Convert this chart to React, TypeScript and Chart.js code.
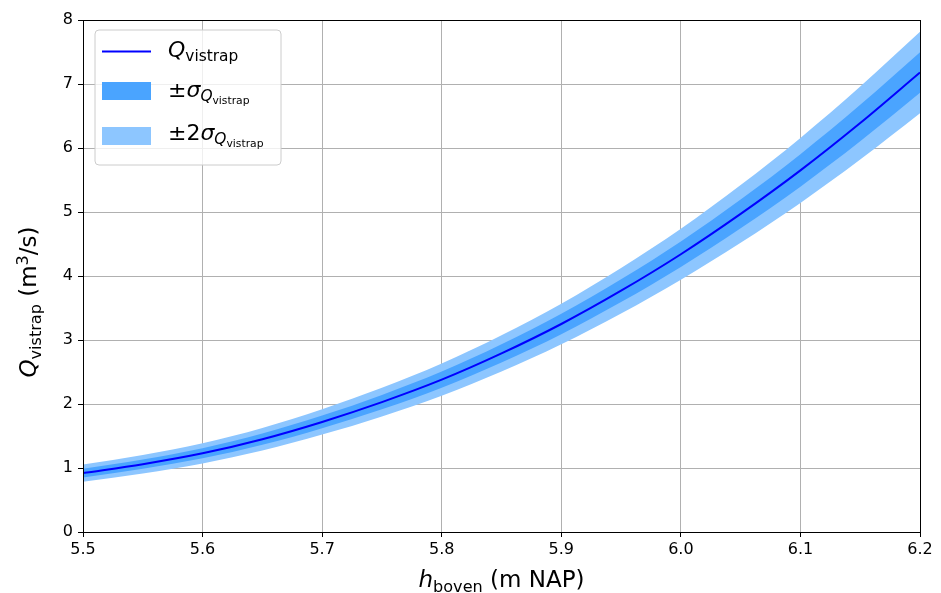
import React, { useEffect, useRef } from "react";
import { Chart, registerables } from "chart.js";

Chart.register(...registerables);

const hBoven = [5.5, 5.55, 5.6, 5.65, 5.7, 5.75, 5.8, 5.85, 5.9, 5.95, 6.0, 6.05, 6.1, 6.15, 6.2];
const qVistrap = [0.92, 1.06, 1.23, 1.45, 1.72, 2.03, 2.38, 2.79, 3.25, 3.77, 4.34, 4.97, 5.65, 6.39, 7.18];
const sigmaQ = [0.067, 0.072, 0.079, 0.088, 0.099, 0.112, 0.126, 0.142, 0.159, 0.178, 0.199, 0.225, 0.254, 0.285, 0.318];
const xTicks = [5.5, 5.6, 5.7, 5.8, 5.9, 6.0, 6.1, 6.2];
const yTicks = [0, 1, 2, 3, 4, 5, 6, 7, 8];

const FONT = "DejaVu Sans";
const LINE_COLOR = "#0000ff";
const BAND1 = "#4aa4ff";
const BAND2 = "#8dc6ff";

type Seg = { t: string; it?: boolean; lvl?: number };

function segFont(s: Seg, f: number) {
  const lvl = s.lvl || 0;
  const size = lvl === 0 ? f : lvl === 2 ? f * 0.49 : f * 0.7;
  return { font: `${s.it ? "italic " : ""}${size}px "${FONT}"`, size };
}
function segShift(s: Seg, f: number) {
  const lvl = s.lvl || 0;
  if (lvl === 1) return f * 0.2;
  if (lvl === 2) return f * 0.2 + f * 0.14;
  if (lvl === -1) return -f * 0.36;
  return 0;
}
function mathWidth(ctx: CanvasRenderingContext2D, segs: Seg[], f: number) {
  let w = 0;
  for (const s of segs) {
    ctx.font = segFont(s, f).font;
    w += ctx.measureText(s.t).width;
  }
  return w;
}
function drawMath(ctx: CanvasRenderingContext2D, x: number, y: number, segs: Seg[], f: number, align: "left" | "center") {
  const w = mathWidth(ctx, segs, f);
  let cx = align === "center" ? x - w / 2 : x;
  ctx.textAlign = "left";
  ctx.textBaseline = "alphabetic";
  for (const s of segs) {
    ctx.font = segFont(s, f).font;
    ctx.fillText(s.t, cx, y + segShift(s, f));
    cx += ctx.measureText(s.t).width;
  }
}

const yTitle: Seg[] = [
  { t: "Q", it: true },
  { t: "vistrap", lvl: 1 },
  { t: " (m" },
  { t: "3", lvl: -1 },
  { t: "/s)" },
];
const xTitle: Seg[] = [{ t: "h", it: true }, { t: "boven", lvl: 1 }, { t: " (m NAP)" }];
const leg1: Seg[] = [{ t: "Q", it: true }, { t: "vistrap", lvl: 1 }];
const leg2: Seg[] = [{ t: "±" }, { t: "σ", it: true }, { t: "Q", it: true, lvl: 1 }, { t: "vistrap", lvl: 2 }];
const leg3: Seg[] = [{ t: "±2" }, { t: "σ", it: true }, { t: "Q", it: true, lvl: 1 }, { t: "vistrap", lvl: 2 }];

const decorPlugin = {
  id: "decor",
  afterDraw(chart: any) {
    const ctx: CanvasRenderingContext2D = chart.ctx;
    const a = chart.chartArea;
    ctx.save();
    // spines
    ctx.strokeStyle = "#000";
    ctx.lineWidth = 1;
    ctx.strokeRect(a.left + 0.5, a.top + 0.5, a.right - a.left, a.bottom - a.top);
    ctx.fillStyle = "#000";
    // x title
    drawMath(ctx, (a.left + a.right) / 2, 587, xTitle, 23, "center");
    // y title
    ctx.save();
    ctx.translate(36, 302);
    ctx.rotate(-Math.PI / 2);
    drawMath(ctx, 0, 0, yTitle, 23, "center");
    ctx.restore();
    // legend
    const lx = 95, ly = 30, lw = 186, lh = 135, r = 4;
    ctx.beginPath();
    ctx.moveTo(lx + r, ly);
    ctx.lineTo(lx + lw - r, ly);
    ctx.arcTo(lx + lw, ly, lx + lw, ly + r, r);
    ctx.lineTo(lx + lw, ly + lh - r);
    ctx.arcTo(lx + lw, ly + lh, lx + lw - r, ly + lh, r);
    ctx.lineTo(lx + r, ly + lh);
    ctx.arcTo(lx, ly + lh, lx, ly + lh - r, r);
    ctx.lineTo(lx, ly + r);
    ctx.arcTo(lx, ly, lx + r, ly, r);
    ctx.closePath();
    ctx.fillStyle = "rgba(255,255,255,0.8)";
    ctx.fill();
    ctx.strokeStyle = "#cccccc";
    ctx.lineWidth = 1;
    ctx.stroke();
    // entries
    ctx.strokeStyle = LINE_COLOR;
    ctx.lineWidth = 2;
    ctx.beginPath();
    ctx.moveTo(102, 51.5);
    ctx.lineTo(151, 51.5);
    ctx.stroke();
    ctx.fillStyle = BAND1;
    ctx.fillRect(102, 82, 49, 18);
    ctx.fillStyle = BAND2;
    ctx.fillRect(102, 127, 49, 18);
    ctx.fillStyle = "#000";
    drawMath(ctx, 168, 57, leg1, 22, "left");
    drawMath(ctx, 168, 97, leg2, 22, "left");
    drawMath(ctx, 168, 140, leg3, 22, "left");
    ctx.restore();
  },
};

export default function App() {
  const ref = useRef<HTMLCanvasElement | null>(null);
  useEffect(() => {
    if (!ref.current) return;
    const pts = (arr: number[]) => hBoven.map((x, i) => ({ x, y: arr[i] }));
    const up1 = qVistrap.map((q, i) => q + sigmaQ[i]);
    const lo1 = qVistrap.map((q, i) => q - sigmaQ[i]);
    const up2 = qVistrap.map((q, i) => q + 2 * sigmaQ[i]);
    const lo2 = qVistrap.map((q, i) => q - 2 * sigmaQ[i]);
    const base = { pointRadius: 0, cubicInterpolationMode: "monotone" as const, borderWidth: 0 };
    const chart = new Chart(ref.current, {
      type: "line",
      data: {
        datasets: [
          { ...base, label: "Q", data: pts(qVistrap), borderColor: LINE_COLOR, borderWidth: 2, fill: false },
          { ...base, label: "up1", data: pts(up1), borderColor: "rgba(0,0,0,0)", backgroundColor: BAND1, fill: "+1" },
          { ...base, label: "lo1", data: pts(lo1), borderColor: "rgba(0,0,0,0)", fill: false },
          { ...base, label: "up2", data: pts(up2), borderColor: "rgba(0,0,0,0)", backgroundColor: BAND2, fill: "+1" },
          { ...base, label: "lo2", data: pts(lo2), borderColor: "rgba(0,0,0,0)", fill: false },
        ],
      },
      options: {
        animation: false,
        responsive: true,
        maintainAspectRatio: false,
        layout: { padding: { left: 0, right: 21, top: 20, bottom: 0 } },
        plugins: { legend: { display: false }, tooltip: { enabled: false } },
        scales: {
          x: {
            type: "linear",
            min: 5.5,
            max: 6.2,
            afterBuildTicks: (s: any) => {
              s.ticks = xTicks.map((v) => ({ value: v }));
            },
            afterFit: (s: any) => {
              s.height = 61;
            },
            ticks: {
              color: "#000",
              font: { family: FONT, size: 16 },
              padding: 3,
              maxRotation: 0,
              callback: (v: any) => Number(v).toFixed(1),
            },
            grid: { color: "#b0b0b0", lineWidth: 1, tickColor: "#000", tickLength: 5 },
            border: { color: "#000", width: 1 },
          },
          y: {
            type: "linear",
            min: 0,
            max: 8,
            afterBuildTicks: (s: any) => {
              s.ticks = yTicks.map((v) => ({ value: v }));
            },
            afterFit: (s: any) => {
              s.width = 83;
            },
            ticks: {
              color: "#000",
              font: { family: FONT, size: 16 },
              padding: 5,
              callback: (v: any) => String(v),
            },
            grid: { color: "#b0b0b0", lineWidth: 1, tickColor: "#000", tickLength: 5 },
            border: { color: "#000", width: 1 },
          },
        },
      },
      plugins: [decorPlugin],
    });
    return () => chart.destroy();
  }, []);
  return (
    <div style={{ position: "fixed", left: 0, top: 0, width: 941, height: 593, background: "#fff" }}>
      <canvas ref={ref} />
    </div>
  );
}
